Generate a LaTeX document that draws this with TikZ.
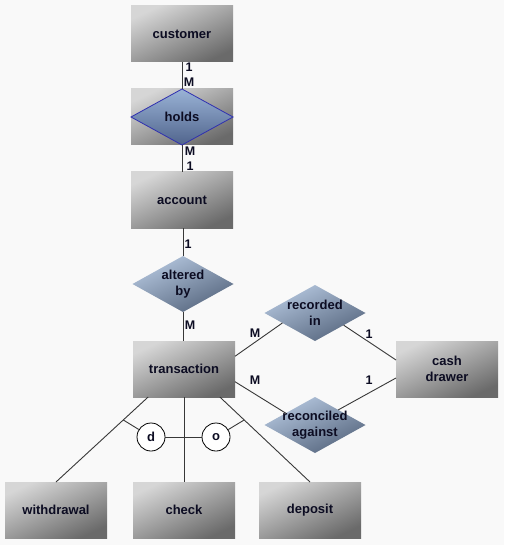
\documentclass[tikz,border=0pt]{standalone}
\usepackage{fontspec}
\setmainfont{Liberation Sans}
\usetikzlibrary{shapes.geometric,calc}
\definecolor{bg}{HTML}{F9F9F9}
\definecolor{entlight}{HTML}{D6D6D6}
\definecolor{entdark}{HTML}{6A6A6A}
\definecolor{rellight}{HTML}{B4C6DE}
\definecolor{reldark}{HTML}{56667E}
\definecolor{hldlight}{HTML}{9AB3D6}
\definecolor{hlddark}{HTML}{50648C}
\definecolor{hldline}{HTML}{3030B0}
\definecolor{txt}{HTML}{0C0C22}
\definecolor{lnk}{HTML}{383838}
\begin{document}
\begin{tikzpicture}[x=1pt,y=-1pt,
  entity/.style={rectangle,minimum width=102pt,minimum height=56pt,inner sep=0pt,outer sep=0pt,
    top color=entlight,bottom color=entdark,shading angle=25,
    font=\fontsize{13}{16}\selectfont\bfseries,text=txt,align=center},
  rel/.style={diamond,minimum width=101pt,minimum height=56pt,inner sep=0pt,outer sep=0pt,
    top color=rellight,bottom color=reldark,shading angle=25},
  reltext/.style={font=\fontsize{13}{16}\selectfont\bfseries,text=txt,align=center},
  card/.style={font=\fontsize{12.5}{13}\selectfont\bfseries,text=txt,inner sep=0pt},
  disj/.style={circle,draw=black,fill=white,line width=0.8pt,minimum size=28pt,inner sep=0pt,
    font=\fontsize{13}{16}\selectfont\bfseries,text=txt},
  link/.style={draw=lnk,line width=0.9pt}]
\fill[bg] (0,0) rectangle (504,545);
% entities
\node[entity] (cust) at (182,34) {customer};
\node[entity] (holdsbox) at (182,117) {};
\node[rel,top color=hldlight,bottom color=hlddark,draw=hldline,line width=0.8pt,
  minimum width=102pt] (holds) at (182,117) {};
\node[reltext] at (holds) {holds};
\node[entity] (acct) at (182,200) {account};
\node[entity] (trans) at (184,369) {transaction};
\node[entity] (cash) at (447,369) {cash\\drawer};
\node[entity] (wd) at (56,510) {withdrawal};
\node[entity] (chk) at (184,510) {check};
\node[entity] (dep) at (310,510) {deposit};
% relationships
\node[rel,label={[reltext]center:{altered\\by}}] (alt) at (183,284) {};
\node[rel,label={[reltext]center:{recorded\\in}}] (rec) at (315,313) {};
\node[rel,label={[reltext]center:{reconciled\\against}}] (rcn) at (315,425) {};
% connectors
\draw[link] (cust) -- (holdsbox);
\draw[link] (holdsbox) -- (acct);
\draw[link] (acct.south -| alt) -- (alt);
\draw[link] (alt) -- (trans.north -| alt);
\draw[link] (trans.14) -- (rec.197);
\draw[link] (rec.-23) -- (cash.170);
\draw[link] (trans.-14) -- (rcn.158);
\draw[link] (rcn.33) -- (cash.190);
% subtypes
\draw[link] (trans.218) -- (wd.north);
\draw[link] (trans.south) -- (chk.north);
\draw[link] (trans.-38) -- (dep.north);
\coordinate (wdp) at ($(trans.218)!0.27!(wd.north)$);
\coordinate (dpp) at ($(trans.-38)!0.27!(dep.north)$);
\node[disj] (dnode) at (151,437) {d};
\node[disj] (onode) at (216,437) {o};
\draw[link] (dnode) -- (onode);
\draw[link] (wdp) -- (dnode);
\draw[link] (dpp) -- (onode);
% cardinalities
\node[card] at (189,67) {1};
\node[card] at (189,82) {M};
\node[card] at (190,151) {M};
\node[card] at (190,166) {1};
\node[card] at (188,244) {1};
\node[card] at (190,325) {M};
\node[card] at (255,333) {M};
\node[card] at (369,334) {1};
\node[card] at (255,380) {M};
\node[card] at (369,380) {1};
\end{tikzpicture}
\end{document}
